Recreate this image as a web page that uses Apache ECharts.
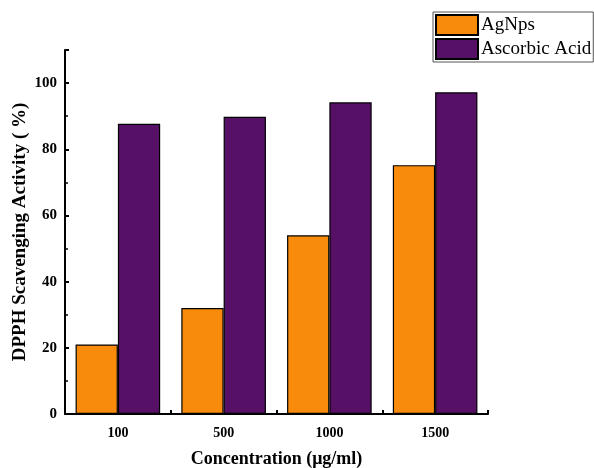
<!doctype html>
<html lang="en">
  <head>
    <meta charset="utf-8">
    <title>DPPH Scavenging Activity</title>
    <script src="https://cdn.jsdelivr.net/npm/echarts@6/dist/echarts.min.js"></script>
    <style>
      html, body { margin: 0; padding: 0; background: #fff; }
      #chart { width: 594px; height: 468px; }
    </style>
  </head>
  <body>
    <div id="chart"></div>
    <script>
    // data
    var concentrations = ['100', '500', '1000', '1500'];
    var agNps = [21, 32, 54, 75.2];
    var ascorbicAcid = [87.7, 89.8, 94.2, 97.2];

    var font = '"Liberation Serif", "Times New Roman", serif';

    var chart = echarts.init(document.getElementById('chart'), null, { renderer: 'canvas' });

    var option = {
      animation: false,
      backgroundColor: '#fff',
      textStyle: { fontFamily: font },
      grid: { left: 65, right: 106, top: 50, bottom: 54, containLabel: false, outerBoundsMode: 'none' },
      legend: {
        left: 433,
        top: 12,
        orient: 'vertical',
        icon: 'rect',
        itemWidth: 42,
        itemHeight: 20,
        itemGap: 2,
        padding: [2, 2, 2, 2],
        borderColor: '#555',
        borderWidth: 1,
        textStyle: { fontFamily: font, fontSize: 19, color: '#000', padding: [0, 0, 0, -2] },
        data: ['AgNps', 'Ascorbic Acid']
      },
      xAxis: {
        type: 'category',
        data: concentrations,
        name: 'Concentration (μg/ml)',
        nameLocation: 'middle',
        nameGap: 36,
        nameTextStyle: { fontFamily: font, fontSize: 18, fontWeight: 'bold', color: '#000' },
        axisLine: { lineStyle: { color: '#000', width: 2 } },
        axisTick: { show: true, inside: true, length: 4, lineStyle: { color: '#000', width: 2 } },
        axisLabel: { fontFamily: font, fontSize: 14, fontWeight: 'bold', color: '#000', margin: 12 }
      },
      yAxis: {
        type: 'value',
        min: 0,
        max: 110,
        interval: 20,
        name: 'DPPH Scavenging Activity ( %)',
        nameLocation: 'middle',
        nameGap: 35,
        nameMoveOverlap: false,
        nameTextStyle: { fontFamily: font, fontSize: 19, fontWeight: 'bold', color: '#000' },
        axisLine: { show: true, lineStyle: { color: '#000', width: 2 } },
        axisTick: { show: true, inside: true, length: 4, lineStyle: { color: '#000', width: 2 } },
        minorTick: { show: true, splitNumber: 2, length: 3, lineStyle: { color: '#000', width: 1.5 } },
        splitLine: { show: false },
        axisLabel: {
          fontFamily: font, fontSize: 15, fontWeight: 'bold', color: '#000', margin: 8,
          showMaxLabel: false
        }
      },
      series: [
        {
          name: 'AgNps',
          type: 'bar',
          data: agNps,
          barGap: '0%',
          barCategoryGap: '20%',
          itemStyle: { color: '#F98B0C', borderColor: '#000', borderWidth: 1.2 }
        },
        {
          name: 'Ascorbic Acid',
          type: 'bar',
          data: ascorbicAcid,
          barGap: '0%',
          barCategoryGap: '20%',
          itemStyle: { color: '#561166', borderColor: '#000', borderWidth: 1.2 }
        }
      ]
    };

    chart.setOption(option);
    </script>
  </body>
</html>
